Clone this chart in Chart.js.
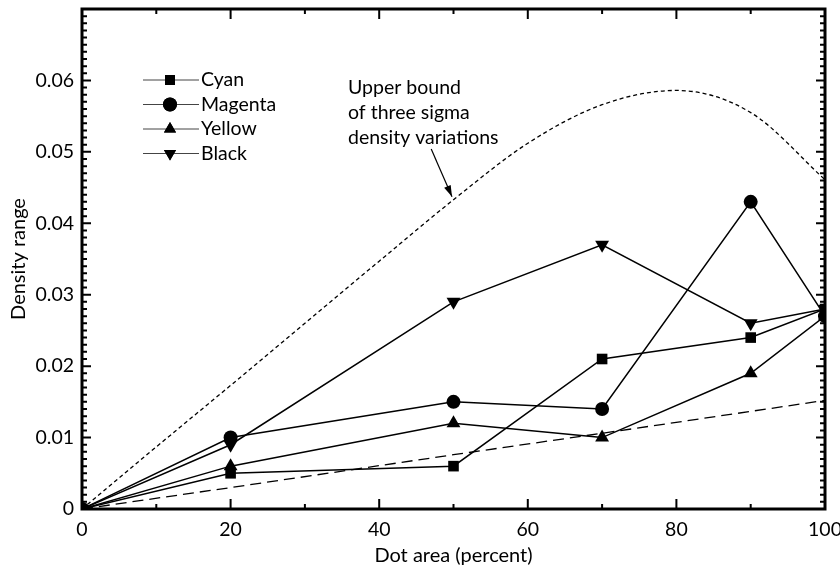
<!DOCTYPE html>
<html>
<head>
<meta charset="utf-8">
<script src="https://cdn.jsdelivr.net/npm/chart.js@4"></script>
<style>
  html, body { margin: 0; padding: 0; background: #fff; overflow: hidden; }
  #wrap { width: 840px; height: 569px; }
</style>
</head>
<body>
<div id="wrap"><canvas id="chart" width="840" height="569"></canvas></div>
<script>
const dotArea = [0, 20, 50, 70, 90, 100];
const cyan = [0, 0.005, 0.006, 0.021, 0.024, 0.028];
const magenta = [0, 0.010, 0.015, 0.014, 0.043, 0.027];
const yellow = [0, 0.006, 0.012, 0.010, 0.019, 0.027];
const black = [0, 0.009, 0.029, 0.037, 0.026, 0.028];

const boundX = [0, 10, 20, 30, 40, 50, 60, 70, 80, 90, 100];
const upperBound = [0, 0.0087, 0.0173, 0.026, 0.0347, 0.0433, 0.0512, 0.0566, 0.0586, 0.0555, 0.0461];
const lowerX = [0, 20, 50, 70, 100];
const lowerBound = [0, 0.003, 0.0076, 0.0106, 0.0152];

const xTicks = [0, 20, 40, 60, 80, 100];
const yTicks = [0, 0.01, 0.02, 0.03, 0.04, 0.05, 0.06];
const legendNames = ["Cyan", "Magenta", "Yellow", "Black"];
const noteLines = ["Upper bound", "of three sigma", "density variations"];

const FONT = "Lato, 'DejaVu Sans', sans-serif";

function pts(xs, ys) {
    return xs.map((x, i) => ({ x: x, y: ys[i] }));
}

function series(label, data, style, size, rot) {
    return {
        label: label,
        data: pts(dotArea, data),
        showLine: true,
        borderColor: "#000",
        backgroundColor: "#000",
        borderWidth: 1.5,
        pointStyle: style,
        pointRadius: size,
        pointRotation: rot || 0,
        pointBorderWidth: 0,
        tension: 0,
    };
}

// frame, inward ticks, legend and the arrow note
const decor = {
    id: "decor",
    afterDraw(chart) {
        const ctx = chart.ctx, a = chart.chartArea;
        const xs = chart.scales.x, ys = chart.scales.y;
        ctx.save();
        ctx.setLineDash([]);
        ctx.strokeStyle = "#000";
        ctx.fillStyle = "#000";
        ctx.lineWidth = 3;
        ctx.strokeRect(a.left, a.top, a.right - a.left, a.bottom - a.top);

        ctx.lineWidth = 2;
        for (let v = 0; v <= 100; v += 10) {
            const px = xs.getPixelForValue(v);
            const len = v % 20 === 0 ? 10 : 5;
            ctx.beginPath();
            ctx.moveTo(px, a.bottom); ctx.lineTo(px, a.bottom - len);
            ctx.moveTo(px, a.top); ctx.lineTo(px, a.top + len);
            ctx.stroke();
        }
        for (let i = 0; i <= 70; i++) {
            const py = ys.getPixelForValue(i / 1000);
            const len = i % 10 === 0 ? 9 : 5;
            ctx.beginPath();
            ctx.moveTo(a.left, py); ctx.lineTo(a.left + len, py);
            ctx.moveTo(a.right, py); ctx.lineTo(a.right - len, py);
            ctx.stroke();
        }

        // legend
        const styles = ["rect", "circle", "triangle", "triangle"];
        ctx.font = "19.5px " + FONT;
        ctx.textBaseline = "middle";
        legendNames.forEach((name, i) => {
            const y = 80 + i * 24.5;
            ctx.lineWidth = 1;
            ctx.strokeStyle = "#444";
            ctx.beginPath();
            ctx.moveTo(143, y); ctx.lineTo(199, y);
            ctx.stroke();
            Chart.helpers.drawPoint(ctx, {
                pointStyle: styles[i], radius: 7, rotation: i === 3 ? 180 : 0, borderWidth: 0
            }, 170, y);
            ctx.fill();
            ctx.fillText(name, 201, y);
        });

        // upper bound note and arrow
        ctx.strokeStyle = "#000";
        ctx.textBaseline = "alphabetic";
        noteLines.forEach((t, i) => ctx.fillText(t, 348, 94 + i * 25));
        const x0 = xs.getPixelForValue(47), y0 = ys.getPixelForValue(0.0504);
        const x1 = xs.getPixelForValue(49.8), y1 = ys.getPixelForValue(0.0437);
        ctx.lineWidth = 1.2;
        ctx.beginPath(); ctx.moveTo(x0, y0); ctx.lineTo(x1, y1); ctx.stroke();
        const ang = Math.atan2(y1 - y0, x1 - x0);
        ctx.beginPath();
        ctx.moveTo(x1, y1);
        ctx.lineTo(x1 - 12 * Math.cos(ang - 0.3), y1 - 12 * Math.sin(ang - 0.3));
        ctx.lineTo(x1 - 12 * Math.cos(ang + 0.3), y1 - 12 * Math.sin(ang + 0.3));
        ctx.closePath();
        ctx.fill();
        ctx.restore();
    }
};

new Chart(document.getElementById("chart"), {
    type: "scatter",
    data: {
        datasets: [
            {
                label: "Upper bound",
                data: pts(boundX, upperBound),
                showLine: true,
                borderColor: "#000",
                borderWidth: 1.3,
                borderDash: [4, 3],
                pointRadius: 0,
                cubicInterpolationMode: "monotone",
            },
            {
                label: "Lower",
                data: pts(lowerX, lowerBound),
                showLine: true,
                borderColor: "#000",
                borderWidth: 1.3,
                borderDash: [11, 6],
                pointRadius: 0,
            },
            series("Cyan", cyan, "rect", 7.5),
            series("Magenta", magenta, "circle", 7),
            series("Yellow", yellow, "triangle", 8),
            series("Black", black, "triangle", 8, 180),
        ],
    },
    options: {
        responsive: false,
        animation: false,
        layout: { padding: { left: 0, right: 15, top: 9, bottom: 0 } },
        plugins: { legend: { display: false }, tooltip: { enabled: false } },
        scales: {
            x: {
                type: "linear",
                min: 0,
                max: 100,
                grid: { display: false, drawTicks: false },
                border: { display: false },
                afterFit: (s) => { s.height = 60; s.paddingLeft = 0; s.paddingRight = 0; },
                afterBuildTicks: (s) => { s.ticks = xTicks.map((v) => ({ value: v })); },
                ticks: { color: "#000", padding: 9, font: { family: FONT, size: 19.5 }, maxRotation: 0 },
                title: {
                    display: true,
                    text: "Dot area (percent)",
                    color: "#000",
                    font: { family: FONT, size: 20 },
                    padding: { top: 0, bottom: 1 },
                },
            },
            y: {
                type: "linear",
                min: 0,
                max: 0.07,
                grid: { display: false, drawTicks: false },
                border: { display: false },
                afterFit: (s) => { s.width = 82; s.paddingTop = 0; s.paddingBottom = 0; },
                afterBuildTicks: (s) => { s.ticks = yTicks.map((v) => ({ value: v })); },
                ticks: {
                    color: "#000",
                    padding: 8,
                    font: { family: FONT, size: 19.5 },
                    callback: (v) => (v === 0 ? "0" : v.toFixed(2)),
                },
                title: {
                    display: true,
                    text: "Density range",
                    color: "#000",
                    font: { family: FONT, size: 20 },
                    padding: { top: 7, bottom: 0 },
                },
            },
        },
    },
    plugins: [decor],
});
</script>
</body>
</html>
